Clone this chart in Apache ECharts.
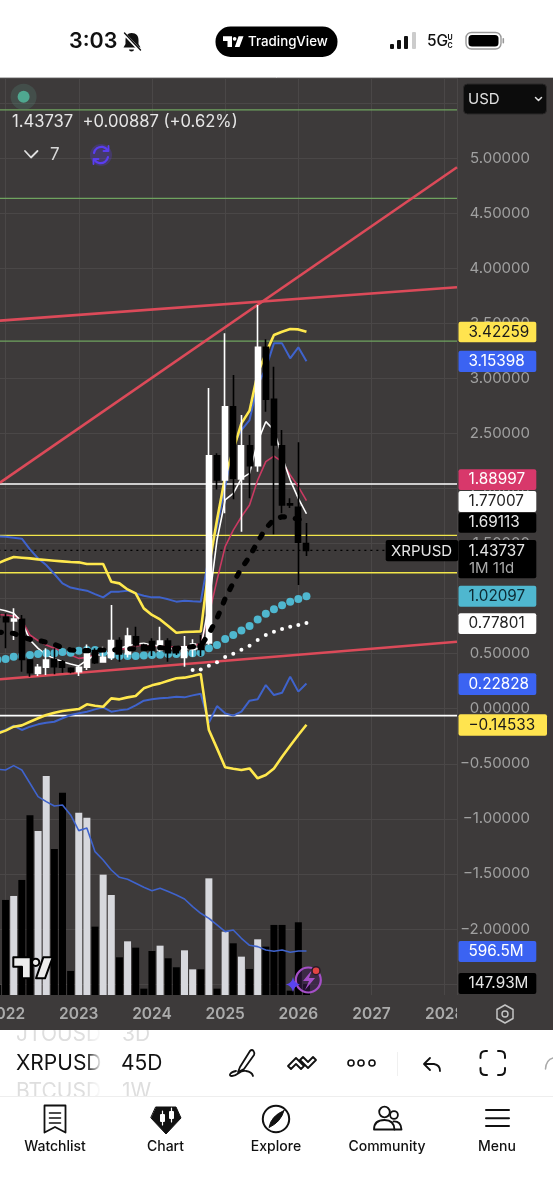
<!DOCTYPE html>
<html><head><meta charset="utf-8">
<style>html,body{margin:0;padding:0;background:#fff}#c{width:553px;height:1200px}</style>
<script src="https://cdn.jsdelivr.net/npm/echarts@6/dist/echarts.min.js"></script>
</head><body><div id="c"></div>
<script>
// ---------- data (bar numbers: 9 bars of 45D per year, 0 = start of 2022) ----------
const yearLabels = ["2021","2022","2023","2024","2025","2026","2027","2028"];
const barIndex = [-1,0,1,2,3,4,5,6,7,8,9,10,11,12,13,14,15,16,17,18,19,20,21,22,23,24,25,26,27,28,29,30,31,32,33,34,35,36,37];
const opens  = [.86,.829,.796,.811,.442,.321,.376,.448,.427,.366,.336,.376,.527,.424,.466,.618,.497,.654,.578,.609,.533,.615,.548,.466,.539,.587,.597,2.297,2.076,2.742,2.087,2.388,2.206,3.281,2.809,2.388,1.86,1.829,1.5];
const closes = [.83,.79,.814,.448,.327,.376,.442,.382,.376,.336,.376,.539,.418,.466,.618,.497,.66,.578,.533,.533,.615,.509,.509,.563,.587,.539,2.297,2.076,2.742,2.092,2.388,2.206,3.281,2.809,2.394,1.849,1.85,1.511,1.43737];
const lows   = [.78,.548,.624,.336,.291,.297,.306,.312,.327,.321,.297,.351,.406,.418,.442,.427,.466,.563,.533,.478,.518,.427,.487,.382,.472,.478,.58,1.99,1.774,1.901,1.607,1.91,2.152,2.697,1.583,1.774,1.822,1.123,1.386];
const highs  = [.9,.866,.911,.851,.45,.406,.548,.548,.442,.376,.397,.584,.548,.563,.941,.648,.736,.745,.59,.639,.745,.639,.563,.66,.63,.669,2.912,2.32,3.408,3.03,2.667,2.485,3.665,3.354,3.105,2.53,1.91,2.419,1.686];
const volumes = [136,1289,1343,1560,2437,2224,2970,1980,2744,326,2473,2405,927,1632,1356,511,728,642,86,597,669,498,376,606,348,348,1582,86,859,701,520,353,755,656,950,950,59,986,147.93];
const volumeLight = [0,0,1,0,0,1,1,0,0,0,1,1,0,1,1,0,1,0,0,0,1,0,0,1,1,0,1,0,1,0,1,0,1,0,0,0,0,0,0];
const volumeMA = [3060,3051,3110,3051,2871,2690,2622,2563,2577,2441,2229,2265,1944,1831,1695,1596,1569,1515,1460,1415,1447,1402,1356,1302,1198,1108,1040,950,859,882,769,674,656,611,593,611,579,597,596.5];
const yellowUpper = [1.32,1.35,1.377,1.371,1.365,1.356,1.35,1.344,1.338,1.332,1.329,1.314,1.314,1.314,1.153,1.138,1.083,1.047,.911,.851,.811,.751,.69,.696,.699,.702,1.29,1.713,2.107,2.349,2.591,2.706,3.045,3.226,3.393,3.423,3.447,3.444,3.42259];
const blueUpper = [1.565,1.562,1.553,1.544,1.447,1.365,1.305,1.223,1.138,1.1,1.084,1.072,1.041,1.011,1.063,1.063,1.072,1.047,1.026,1.011,1.011,.993,.972,.981,.975,.972,1.38,1.652,2.016,2.394,2.53,2.621,2.939,3.09,3.317,3.317,3.181,3.281,3.15398];
const whiteLine = [.905,.89,.866,.79,.624,.548,.488,.457,.427,.406,.388,.442,.488,.488,.518,.548,.569,.587,.593,.578,.569,.548,.542,.548,.542,.548,.95,1.532,1.895,1.955,2.091,2.137,2.424,2.606,2.53,2.288,2.076,1.91,1.77007];
const crimsonLine = [.855,.851,.842,.805,.669,.618,.578,.548,.518,.488,.457,.466,.488,.497,.518,.533,.554,.569,.578,.572,.569,.563,.563,.563,.569,.593,.85,1.168,1.471,1.622,1.743,1.849,2.076,2.243,2.294,2.243,2.122,2.016,1.88997];
const blackDashed = [.695,.69,.684,.654,.63,.621,.603,.584,.554,.533,.527,.527,.53,.533,.533,.536,.542,.545,.548,.554,.554,.548,.548,.554,.563,.569,.68,.82,1,1.144,1.274,1.38,1.516,1.637,1.719,1.743,1.737,1.72,1.69113];
const cyanDots = [.445,.451,.472,.478,.488,.497,.503,.503,.515,.509,.527,.533,.533,.509,.488,.478,.478,.478,.484,.488,.491,.497,.497,.497,.503,.509,.548,.578,.633,.669,.711,.751,.811,.863,.902,.939,.972,.996,1.02097];
const whiteDotIndex = [23,24,25,26,27,28,29,30,31,32,33,34,35,36,37];
const whiteDots = [.351,.357,.391,.421,.469,.5,.536,.572,.624,.669,.699,.724,.745,.76,.77801];
const yellowLower = [-.225,-.199,-.163,-.151,-.118,-.087,-.057,-.036,-.021,-.012,-.003,.04,.027,.018,.094,.085,.103,.115,.185,.212,.23,.254,.276,.282,.297,.315,-.194,-.36,-.532,-.545,-.557,-.542,-.632,-.602,-.542,-.436,-.336,-.239,-.14533];
const blueLower = [-.215,-.193,-.154,-.193,-.163,-.142,-.127,-.118,-.087,-.057,-.042,-.027,-.006,.012,-.027,-.015,-.006,.03,.073,.085,.094,.1,.109,.103,.121,.136,-.127,.024,-.042,-.063,-.027,.073,.085,.215,.124,.145,.291,.155,.22828];
const greenLevels = [5.436,4.634,3.338];
const whiteLevels = [2.04,-.063];
const yellowLevels = [1.574,1.235];
const lastPrice = 1.43737;
const trendSteep = [2.052,4.916];
const trendUpper = [3.523,3.826];
const trendLower = [.267,.608];
const tagTexts = ["3.42259","3.15398","1.88997","1.77007","1.69113","1.43737","1.02097","0.77801","0.22828","\u22120.14533","596.5M","147.93M"];
const legendText = "1.43737  +0.00887 (+0.62%)";

// ---------- layout ----------
const PANE = '#3d3a3a', GRIDC = '#4a4747', RED = '#dc4a59', YEL = '#ffe84d', BLUE = '#3f63cc';
const UI = 'Inter, "Noto Sans", sans-serif';
const xMin = -9, xMax = 55.51;
const gridX = {left:-67.63, width:524.63};

const pair = (a) => a.map((v,k)=>[barIndex[k],v]);
const hline = (v,color,width,type,z) => ({type:'line',xAxisIndex:0,yAxisIndex:0,silent:true,symbol:'none',z:z||2,data:[[xMin,v],[xMax,v]],lineStyle:{color,width,type:type||'solid'}});
const tline = (a,color,width) => ({type:'line',xAxisIndex:0,yAxisIndex:0,silent:true,symbol:'none',z:2,data:[[-0.685,a[0]],[xMax,a[1]]],lineStyle:{color,width}});
const mline = (a,color,width,z,extra) => ({type:'line',xAxisIndex:0,yAxisIndex:0,silent:true,symbol:'none',z:z||3,data:pair(a),lineStyle:Object.assign({color,width},extra||{})});

const series = [
  {type:'bar',xAxisIndex:1,yAxisIndex:1,silent:true,z:1,barWidth:7,data:volumes.map((v,k)=>[barIndex[k],v]),
   itemStyle:{color:p=>volumeLight[p.dataIndex]?'#d7d8dd':'#000'}},
  {type:'line',xAxisIndex:1,yAxisIndex:1,silent:true,symbol:'none',z:2,data:pair(volumeMA),lineStyle:{color:BLUE,width:1.6}},
  ...greenLevels.map(v=>hline(v,'#6fa35f',1.3)),
  ...whiteLevels.map(v=>hline(v,'#ffffff',1.6)),
  ...yellowLevels.map(v=>hline(v,'#f2e64a',1.4)),
  hline(lastPrice,'#000000',1.4,[2,4]),
  tline(trendSteep,RED,2.6), tline(trendUpper,RED,2.6), tline(trendLower,RED,2.6),
  mline(blueLower,BLUE,2), mline(yellowLower,YEL,2.6),
  mline(crimsonLine,'#c93a62',1.6), mline(whiteLine,'#ffffff',1.6),
  mline(blueUpper,BLUE,2), mline(yellowUpper,YEL,2.6),
  {type:'scatter',xAxisIndex:0,yAxisIndex:0,silent:true,z:3,symbolSize:8,data:pair(cyanDots),itemStyle:{color:'#4fb7cf',opacity:1}},
  {type:'scatter',xAxisIndex:0,yAxisIndex:0,silent:true,z:3,symbolSize:4,data:whiteDots.map((v,k)=>[whiteDotIndex[k],v]),itemStyle:{color:'#ffffff',opacity:1}},
  {type:'candlestick',xAxisIndex:0,yAxisIndex:0,silent:true,z:4,barWidth:5.5,
   data:barIndex.map((x,k)=>[x,opens[k],closes[k],lows[k],highs[k]]),
   itemStyle:{color:'#ffffff',color0:'#000000',borderColor:'#ffffff',borderColor0:'#000000',borderWidth:1.6}},
  mline(blackDashed,'#000000',5.2,5,{type:[4,11],cap:'round'})
];

// ---------- screen furniture ----------
const g = [];
let pathCount = 0;
const rect=(x,y,w,h,fill,z,r)=>g.push({type:'rect',silent:true,z:z,shape:{x,y,width:w,height:h,r:r||0},style:{fill}});
const txt=(s,x,y,size,fill,weight,align,z)=>g.push({type:'text',silent:true,z:z||60,style:{text:s,x,y,font:(weight||400)+' '+size+'px '+UI,fill,textAlign:align||'left',textVerticalAlign:'middle',verticalAlign:'middle'}});
const path=(d,stroke,lw,fill,z)=>{
  const name='uiPath'+(pathCount++);
  echarts.graphic.registerShape(name,echarts.graphic.extendPath(d,{}));
  g.push({type:name,silent:true,z:z||60,style:{stroke:stroke||null,lineWidth:lw||1,fill:fill||null,lineCap:'round',lineJoin:'round'}});
};
const circ=(cx,cy,r,stroke,lw,fill,z)=>g.push({type:'circle',silent:true,z:z||60,shape:{cx,cy,r},style:{stroke:stroke||null,lineWidth:lw||1,fill:fill||null}});

rect(0,78,553,952,PANE,-10);
rect(457,995,96,35,PANE,5);
rect(0,1030,553,170,'#ffffff',50);
rect(0,0,553,78,'#ffffff',50);
g.push({type:'line',silent:true,z:51,shape:{x1:0,y1:77.5,x2:553,y2:77.5},style:{stroke:'#bdbdbd',lineWidth:1}});

// status bar
txt('3:03',69,42,21.5,'#111',600);
path('M131.5 33c-4 0-6 3-6 7v4l-2 3.5h17l-2-3.5v-4c0-4-2-7-7-7zM129 49.5a2.5 2 0 0 0 5 0z',null,1,'#111');
path('M124 33.5L140 50.5','#fff',3.2); path('M124.5 33L140.5 50','#111',1.4);
rect(215.5,26.5,122,30.5,'#000',55,15);
const logo=(ox,oy,s,fill,stroke)=>{
  const p=(x,y)=>(ox+x*s).toFixed(1)+' '+(oy+y*s).toFixed(1);
  const d='M'+p(0,0)+'L'+p(17.4,0)+'L'+p(17.4,21)+'L'+p(8.7,21)+'L'+p(8.7,9.4)+'L'+p(0,9.4)+'Z M'+p(30,0)+'L'+p(39.4,0)+'L'+p(31.7,21)+'L'+p(22.7,21)+'Z';
  path(d,stroke,stroke?2:0,fill);
  circ(ox+22.4*s,oy+5*s,3.6*s,stroke,stroke?2:0,fill);
};
logo(223,36.2,.52,'#fff');
txt('TradingView',248,42,13.3,'#fff',500);
rect(390,44,4,5,'#111',60,1); rect(397,40,4,9,'#111',60,1); rect(404,36,4,13,'#111',60,1); rect(412,32,4,17,'#ccc',60,1);
txt('5G',427,41.5,15.5,'#111',500);
txt('U',447.5,37.5,7,'#111',700); txt('C',447.5,45.5,7,'#111',700);
g.push({type:'rect',silent:true,z:60,shape:{x:466,y:32.5,width:35,height:16.5,r:5.5},style:{stroke:'#9a9a9a',lineWidth:1.4,fill:'#fff'}});
rect(468.5,35,30,11.5,'#000',61,3.5);
rect(502.5,38,1.6,5.5,'#9a9a9a',60,1);

// chart overlays
circ(23.6,96.7,13,null,0,'rgba(88,140,125,.25)');
circ(23.6,96.7,6,null,0,'#4fa890');
txt(legendText,12,122,16.6,'#e6e6e6',400);
path('M25 151L31 157.5L37.5 151','#e0e0e0',1.8);
txt('7',50,155,17,'#d8d8d8',400);
circ(101,155,11,null,0,'rgba(90,60,230,.28)');
path('M94 153a7.5 7.5 0 0 1 13.5-3M108 157a7.5 7.5 0 0 1-13.5 3','#5a3df0',2.2);
path('M108.5 146v5h-5M93.5 164v-5h5','#5a3df0',1.8);

// USD select
g.push({type:'rect',silent:true,z:60,shape:{x:463.5,y:84,width:83,height:30,r:4},style:{fill:'#0c0c0c',stroke:'#2a2828',lineWidth:1}});
txt('USD',468,99,15,'#e0e0e0',400);
path('M535.5 97.5L538.5 100.5L541.5 97.5','#e0e0e0',1.5);

// price tags
const tagBox=[[321.7,20.6,77.8,'#ffe44f','#1b1b1b'],[350.7,21.3,77.8,'#3b63f2','#ffffff'],[469.3,20.7,77.8,'#d8386b','#ffffff'],[491,21,77.8,'#ffffff','#222'],[512.7,20,77.8,'#000','#e6e6e6'],[540,38.3,77.8,'#000','#e6e6e6'],[585.7,21,77.8,'#4fb7cf','#0d2a33'],[613.3,20.7,77.8,'#ffffff','#222'],[673.3,21.7,77.8,'#3b63f2','#ffffff'],[714.3,21.4,88.5,'#ffe44f','#1b1b1b'],[941,21,77.8,'#3b63f2','#ffffff'],[973,21,77.8,'#000','#e6e6e6']];
tagBox.forEach((b,k)=>{
  rect(458.5,b[0],b[2],b[1],b[3],58,2);
  const cy=k===5?b[0]+11:b[0]+b[1]/2;
  txt(tagTexts[k],468.5,cy,15.3,b[4],400);
});
txt('1M 11d',469,568,15,'#aaaaaa',400);
rect(385.7,540,72.5,21.3,'#000',58,2);
txt('XRPUSD',391,551,15,'#e6e6e6',400);

// chart logos
logo(13.3,957.3,1,'#ececec','#000');
circ(308.3,980,12.5,'#a54fc7',2.2,'rgba(60,30,80,.55)');
path('M312 970L303 981H309L305 990L315 978H309Z',null,1,'#a54fc7');
path('M293 977Q294 983 300 984.5Q294 986 293 992Q292 986 286 984.5Q292 983 293 977Z',null,1,'#5a43f0');
circ(316,970.7,4,'#2a1a2a',1.5,'#e24545');

// axis gear
path('M505 1005L513 1009.5V1018.5L505 1023L497 1018.5V1009.5Z','#c4c4c4',1.5);
circ(505,1014,3,'#c4c4c4',1.4);

// toolbar
txt('JTOUSD',16,1035,21,'#dedede',400,'left',51);
txt('3D',122,1035,21,'#dedede',400,'left',51);
rect(0,1022,200,8,PANE,52);
txt('XRPUSD',16,1064,21,'#111',400,'left',52);
txt('45D',121,1064,21,'#111',400,'left',52);
txt('BTCUSD',16,1092,21,'#dedede',400,'left',51);
txt('1W',122,1092,21,'#dedede',400,'left',51);
rect(0,1097,200,6,'#ffffff',52);
g.push({type:'rect',silent:true,z:53,shape:{x:86,y:1030,width:16,height:66},style:{fill:{type:'linear',x:0,y:0,x2:1,y2:0,colorStops:[{offset:0,color:'rgba(255,255,255,0)'},{offset:1,color:'#fff'}]}}});
rect(0,1096,553,1,'#eeeeee',52);
path('M240 1067L250 1051Q252 1049 253.5 1051Q255 1053 254 1055L244 1069L238 1072ZM236 1071C230 1072 228 1076 232 1076C238 1076 240 1069 246 1071Q252 1072 253 1076','#111',1.8);
path('M288 1066L296 1058L304 1066L301 1069L296 1064L291 1069ZM300 1060L303 1057L308 1062L313 1057L316 1060L308 1068Z','#111',1.8);
[351,361,372].forEach(x=>circ(x,1063,3,'#111',1.6));
rect(397,1052,1,24,'#f0f0f0',52);
path('M430 1058L424 1064L430 1070M424.5 1064H434Q440 1065 440 1071','#111',1.8);
path('M480.5 1058V1056Q480.5 1051 485.5 1051H487M498 1051H500Q505 1051 505 1056V1058M505 1068V1070Q505 1075 500 1075H498M487 1075H485.5Q480.5 1075 480.5 1070V1068','#111',2);
path('M553 1058Q546 1060 545.5 1069','#aaaaaa',1.5);

// bottom nav
path('M44.5 1105.5H65.5V1132.5L55 1127L44.5 1132.5Z','#111',1.8);
path('M49.5 1113H60.5M49.5 1118H60.5M49.5 1123H60.5','#111',1.6);
path('M156 1107H176L181 1118L166 1134L151 1118Z','#111',1,'#111');
rect(160,1114,5,8,'#fff',61,1); rect(169,1111,5,8,'#fff',61,1);
path('M162.5 1111V1125M171.5 1108V1122','#fff',1.2,null,61);
circ(276,1119,13.2,'#111',2);
path('M284 1110.5Q281 1122 269 1127.5Q271 1116 284 1110.5Z','#111',1,'#111');
circ(384.5,1112,5.3,'#111',1.8);
circ(394,1115,3.9,'#111',1.8);
path('M374 1129.5Q374 1120 384.5 1120Q394 1120 394.5 1129.5Z','#111',1.8);
path('M393.5 1121.5Q401 1121 401.5 1129.5H394.5','#111',1.8);
path('M486 1110H509M486 1118.3H509M486 1126H509','#111',2);
[['Watchlist',55],['Chart',165.5],['Explore',276],['Community',387],['Menu',497]].forEach(t=>txt(t[0],t[1],1147,14,'#111',500,'center',60));

// ---------- chart ----------
const xBase = {type:'value',min:xMin,max:xMax,interval:9,axisLine:{show:false},axisTick:{show:false}};
const option = {
  animation:false,
  backgroundColor:'#ffffff',
  grid:[
    {left:gridX.left,width:gridX.width,top:78,height:961.14,outerBoundsMode:'none'},
    {left:gridX.left,width:gridX.width,top:78,height:917,outerBoundsMode:'none'}
  ],
  xAxis:[
    Object.assign({},xBase,{gridIndex:0,axisLabel:{show:false},splitLine:{show:false}}),
    Object.assign({},xBase,{gridIndex:1,splitLine:{show:true,lineStyle:{color:GRIDC,width:1}},
      axisLabel:{show:true,margin:11,showMinLabel:false,showMaxLabel:false,color:'#ababab',fontFamily:UI,fontWeight:600,fontSize:15.5,
        formatter:v=>{const k=v/9+1;return Number.isInteger(k)?yearLabels[k]:'';}}})
  ],
  yAxis:[
    {type:'value',gridIndex:0,position:'right',min:-3,max:5.7263,interval:.5,axisLine:{show:false},axisTick:{show:false},
      splitLine:{show:true,lineStyle:{color:GRIDC,width:1}},
      axisLabel:{show:true,showMaxLabel:false,margin:73,align:'right',color:'#a0a0a0',fontFamily:UI,fontSize:15,
        formatter:v=>{if(v<-2.01||v>5.01)return '';const s=Math.abs(v).toFixed(5);return v<0?'\u2212'+s:s;}}},
    {type:'value',gridIndex:1,position:'left',min:0,max:12435,show:false}
  ],
  graphic:{elements:g},
  series
};
const chart = echarts.init(document.getElementById('c'),null,{renderer:'canvas'});
chart.setOption(option);
</script></body></html>
